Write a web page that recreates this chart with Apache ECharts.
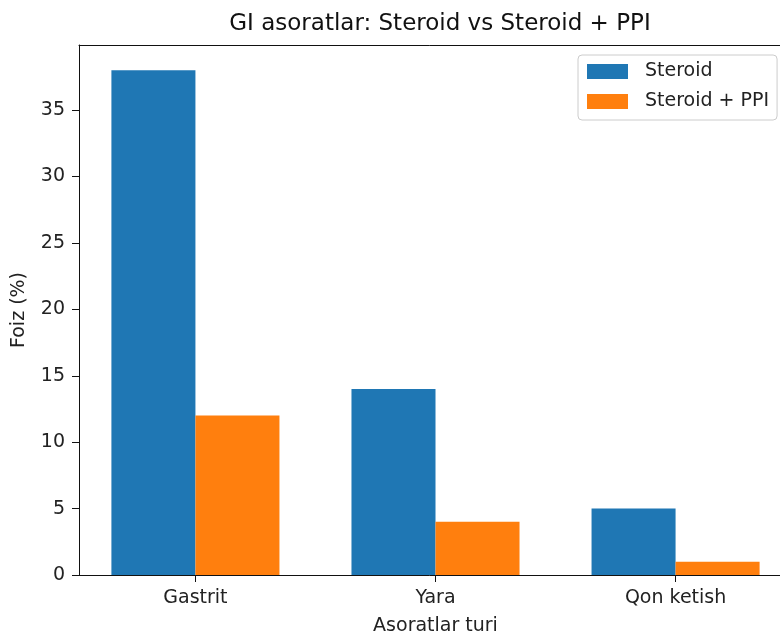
<!DOCTYPE html>
<html>
<head>
<meta charset="utf-8">
<script src="https://cdn.jsdelivr.net/npm/echarts@6/dist/echarts.min.js"></script>
<style>html,body{margin:0;padding:0;background:#fff}#c{width:780px;height:636px}</style>
</head>
<body>
<div id="c"></div>
<script>
const categories = ['Gastrit', 'Yara', 'Qon ketish'];
const steroid = [38, 14, 5];
const steroidPPI = [12, 4, 1];
const yTicks = [0, 5, 10, 15, 20, 25, 30, 35];
const seriesNames = ['Steroid', 'Steroid + PPI'];

const FONT = 'DejaVu Sans';
const gridLeft = 79, gridRight = -12, gridTop = 45, gridBottom = 61;
const xMin = -0.485, xMax = 2.485;
const barFrac = 0.35;
const gridWidth = 780 - gridLeft - gridRight;
const barPx = barFrac * gridWidth / (xMax - xMin);

const chart = echarts.init(document.getElementById('c'), null, {renderer: 'canvas'});
chart.setOption({
  animation: false,
  backgroundColor: '#fff',
  title: {
    text: 'GI asoratlar: Steroid vs Steroid + PPI',
    left: 435, top: 8, textAlign: 'center',
    textStyle: {fontFamily: FONT, fontSize: 23, fontWeight: 'normal', color: '#111'}
  },
  legend: {
    orient: 'vertical',
    left: 578, top: 55,
    icon: 'rect',
    itemWidth: 41, itemHeight: 15, itemGap: 11,
    padding: [7, 8, 9, 9],
    borderColor: '#ccc', borderWidth: 1, borderRadius: 4,
    backgroundColor: 'rgba(255,255,255,0.8)',
    textStyle: {fontFamily: FONT, fontSize: 19, color: '#222', padding: [0, 0, 0, 12]},
    data: seriesNames
  },
  grid: {
    left: gridLeft, right: gridRight, top: gridTop, bottom: gridBottom,
    outerBoundsMode: 'none', containLabel: false, show: false
  },
  xAxis: [{
    type: 'value', min: xMin, max: xMax,
    name: 'Asoratlar turi', nameLocation: 'middle', nameGap: 42,
    nameTextStyle: {fontFamily: FONT, fontSize: 19, color: '#222'},
    axisLine: {show: true, onZero: false, lineStyle: {color: '#111', width: 1}},
    axisTick: {show: true, length: 7, customValues: categories.map((c, i) => i), lineStyle: {color: '#111'}},
    axisLabel: {
      customValues: categories.map((c, i) => i),
      formatter: v => categories[Math.round(v)] || '',
      fontFamily: FONT, fontSize: 19, color: '#222', margin: 14
    },
    splitLine: {show: false}
  }, {
    type: 'value', position: 'top', min: xMin, max: xMax,
    axisLine: {show: true, onZero: false, lineStyle: {color: '#111', width: 1}},
    axisTick: {show: false}, axisLabel: {show: false}, splitLine: {show: false}
  }],
  yAxis: {
    type: 'value', min: 0, max: 39.9,
    name: 'Foiz (%)', nameLocation: 'middle', nameGap: 50, nameRotate: 90,
    nameTextStyle: {fontFamily: FONT, fontSize: 19, color: '#222'},
    axisLine: {show: true, onZero: false, lineStyle: {color: '#111', width: 1}},
    axisTick: {show: true, length: 7, customValues: yTicks, lineStyle: {color: '#111'}},
    axisLabel: {customValues: yTicks, fontFamily: FONT, fontSize: 19, color: '#222', margin: 14},
    splitLine: {show: false}
  },
  series: [
    {
      name: seriesNames[0], type: 'bar', barWidth: barPx, barGap: '-100%',
      itemStyle: {color: '#1f77b4'},
      data: steroid.map((v, i) => [i - barFrac / 2, v])
    },
    {
      name: seriesNames[1], type: 'bar', barWidth: barPx, barGap: '-100%',
      itemStyle: {color: '#ff7f0e'},
      data: steroidPPI.map((v, i) => [i + barFrac / 2, v])
    }
  ]
});
</script>
</body>
</html>
